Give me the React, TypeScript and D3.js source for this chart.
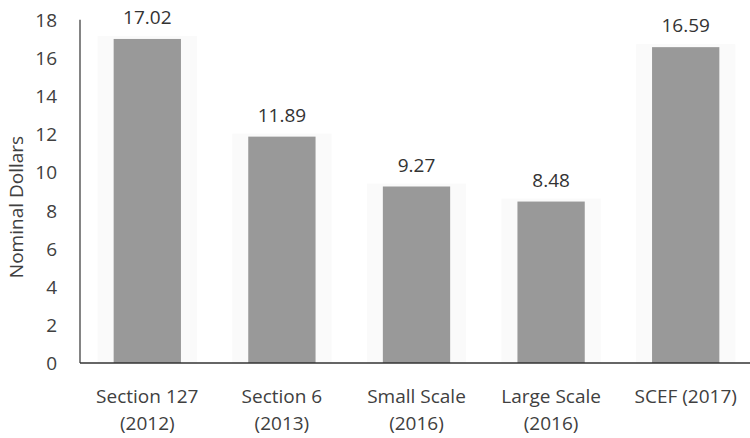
import React, { useEffect, useRef } from "react";
import * as d3 from "d3";

const categories: string[][] = [
  ["Section 127", "(2012)"],
  ["Section 6", "(2013)"],
  ["Small Scale", "(2016)"],
  ["Large Scale", "(2016)"],
  ["SCEF (2017)"],
];
const values: number[] = [17.02, 11.89, 9.27, 8.48, 16.59];
const yTicks: number[] = [0, 2, 4, 6, 8, 10, 12, 14, 16, 18];
const yTitle = "Nominal Dollars";

const W = 750;
const H = 438;
const FONT = "'Open Sans', 'Noto Sans', sans-serif";
const FS = 19;

export default function App() {
  const ref = useRef<SVGSVGElement>(null);

  useEffect(() => {
    const svg = d3.select(ref.current);
    svg.selectAll("*").remove();

    const left = 80;
    const right = 753;
    const top = 20.3;
    const bottom = 363;

    const x = d3
      .scaleBand<number>()
      .domain(values.map((_, i) => i))
      .range([left, right])
      .paddingInner(0.5)
      .paddingOuter(0.25);
    const y = d3.scaleLinear().domain([0, 18]).range([bottom, top]);

    svg.append("rect").attr("width", W).attr("height", H).attr("fill", "#ffffff");

    // faint halo behind bars
    svg
      .selectAll(".halo")
      .data(values)
      .enter()
      .append("rect")
      .attr("x", (_, i) => (x(i) as number) - 16)
      .attr("y", (d) => y(d) - 3)
      .attr("width", x.bandwidth() + 32)
      .attr("height", (d) => bottom - y(d) + 3)
      .attr("fill", "#fafafa");

    // bars
    svg
      .selectAll(".bar")
      .data(values)
      .enter()
      .append("rect")
      .attr("x", (_, i) => x(i) as number)
      .attr("y", (d) => y(d))
      .attr("width", x.bandwidth())
      .attr("height", (d) => bottom - y(d))
      .attr("fill", "#999999");

    // value labels
    svg
      .selectAll(".val")
      .data(values)
      .enter()
      .append("text")
      .attr("x", (_, i) => (x(i) as number) + x.bandwidth() / 2)
      .attr("y", (d) => y(d) - 15)
      .attr("text-anchor", "middle")
      .attr("font-family", FONT)
      .attr("font-size", FS)
      .attr("fill", "#333333")
      .text((d) => d.toFixed(2));

    // y axis line
    svg
      .append("line")
      .attr("x1", left)
      .attr("x2", left)
      .attr("y1", top - 0.5)
      .attr("y2", bottom)
      .attr("stroke", "#333333")
      .attr("stroke-width", 1.2);

    // x axis line
    svg
      .append("line")
      .attr("x1", left)
      .attr("x2", W)
      .attr("y1", bottom)
      .attr("y2", bottom)
      .attr("stroke", "#333333")
      .attr("stroke-width", 1.5);

    // y tick labels
    svg
      .selectAll(".ytick")
      .data(yTicks)
      .enter()
      .append("text")
      .attr("x", 57)
      .attr("y", (d) => y(d))
      .attr("dy", "0.36em")
      .attr("text-anchor", "end")
      .attr("font-family", FONT)
      .attr("font-size", FS)
      .attr("fill", "#404040")
      .text((d) => String(d));

    // x category labels
    const cat = svg
      .selectAll(".cat")
      .data(categories)
      .enter()
      .append("text")
      .attr("text-anchor", "middle")
      .attr("font-family", FONT)
      .attr("font-size", FS)
      .attr("fill", "#404040");
    cat.each(function (lines, i) {
      const t = d3.select(this);
      lines.forEach((ln, j) => {
        t.append("tspan")
          .attr("x", (x(i) as number) + x.bandwidth() / 2)
          .attr("y", 403 + j * 27)
          .text(ln);
      });
    });

    // y title
    svg
      .append("text")
      .attr("transform", `translate(23, 207) rotate(-90)`)
      .attr("text-anchor", "middle")
      .attr("font-family", FONT)
      .attr("font-size", FS)
      .attr("fill", "#404040")
      .text(yTitle);
  }, []);

  return (
    <svg
      ref={ref}
      width={W}
      height={H}
      style={{ position: "absolute", left: 0, top: 0, display: "block" }}
    />
  );
}
